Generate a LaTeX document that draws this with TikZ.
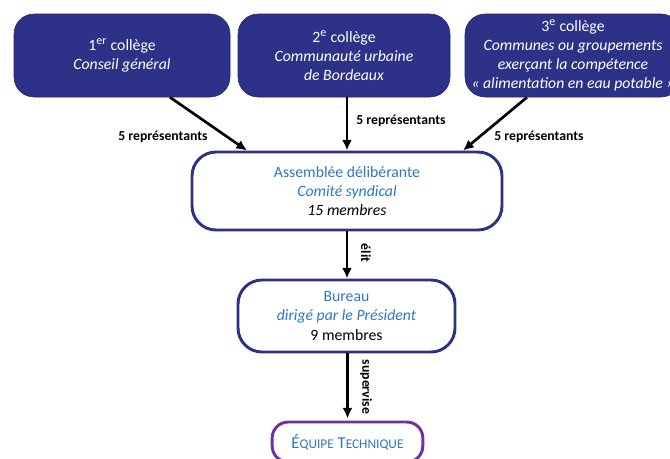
\documentclass[tikz,border=0pt]{standalone}
\usepackage{fontspec}
\setmainfont{Carlito}
\usepackage{tikz}
\usetikzlibrary{arrows.meta}
\usetikzlibrary{positioning}
\definecolor{college}{HTML}{2E3188}
\definecolor{bleutexte}{HTML}{2F78C4}
\definecolor{violet}{HTML}{7030A0}
\tikzset{
	college/.style={draw=college!80!black, fill=college, rounded corners=15pt, text=white,
		align=center, inner xsep=0pt, font=\fontsize{11.8}{14.3}\selectfont},
	instance/.style={draw=college, line width=2.2pt, fill=white, rounded corners=18pt,
		align=center, font=\fontsize{11.8}{14.3}\selectfont},
	equipe/.style={draw=violet, line width=2.2pt, fill=white, rounded corners=12pt,
		align=center, text=bleutexte},
	fleche/.style={line width=2pt, -{Latex[length=8pt,width=7.5pt]}},
	lien/.style={font=\bfseries\fontsize{10.3}{12}\selectfont, inner sep=1pt}
}
\newcommand{\petit}[1]{{\fontsize{10}{12}\selectfont #1}}
\newcommand{\expo}[1]{\textsuperscript{\fontsize{9}{10}\selectfont #1}}

\begin{document}
\begin{tikzpicture}[x=0.75pt, y=-0.75pt]

        \useasboundingbox (0,0) rectangle (670,458);
        \clip (0,0) rectangle (670,458);

        % ==================================================
        % 1. LES TROIS COLLEGES
        % ==================================================
        \node[college, minimum width=162pt, minimum height=62.25pt] (col1) at (122, 55.5)
            {1\expo{er} collège\\ \textit{Conseil général}};
        \node[college, minimum width=159pt, minimum height=62.25pt] (col2) at (344, 55.5)
            {2\expo{e} collège\\ \textit{Communauté urbaine}\\ \textit{de Bordeaux}};
        \node[college, minimum width=162pt, minimum height=62.25pt] (col3) at (573, 55.5)
            {3\expo{e} collège\\ \textit{Communes ou groupements}\\
             \textit{exerçant la compétence}\\ \textit{« alimentation en eau potable »}};

        % ==================================================
        % 2. ASSEMBLEE, BUREAU, EQUIPE
        % ==================================================
        \node[instance, minimum width=232.5pt, minimum height=58.5pt] (asm) at (347, 191)
            {\textcolor{bleutexte}{Assemblée délibérante}\\
             \textcolor{bleutexte}{\textit{Comité syndical}}\\ \textit{15 membres}};
        \node[instance, minimum width=162.75pt, minimum height=54pt] (bur) at (346.5, 316)
            {\textcolor{bleutexte}{Bureau}\\
             \textcolor{bleutexte}{\textit{dirigé par le Président}}\\ 9 membres};
        \node[equipe, minimum width=113pt, minimum height=30pt] (equ) at (347.5, 442)
            {\fontsize{12.5}{14}\selectfont É\petit{QUIPE} T\petit{ECHNIQUE}};

        % ==================================================
        % 3. FLECHES ET LIBELLES
        % ==================================================
        \draw[fleche] ([xshift=36pt]col1.south) -- ([xshift=-75pt]asm.north);
        \draw[fleche] (col2.south -| asm.north) -- (asm.north);
        \draw[fleche] ([xshift=-34.5pt]col3.south) -- ([xshift=87pt]asm.north);
        \draw[fleche] (asm.south) -- (bur.north -| asm.south);
        \draw[fleche] (bur.south -| equ.north) -- ([yshift=1.5pt]equ.north);

        \node[lien] (rep1) at (163, 137) {5 représentants};
        \node[lien] (rep2) at (401, 121) {5 représentants};
        \node[lien] (rep3) at (539, 137) {5 représentants};
        \node[lien, rotate=-90] (elit) at (366, 253) {élit};
        \node[lien, rotate=-90] (sup) at (366, 387) {supervise};

    \end{tikzpicture}
\end{document}
